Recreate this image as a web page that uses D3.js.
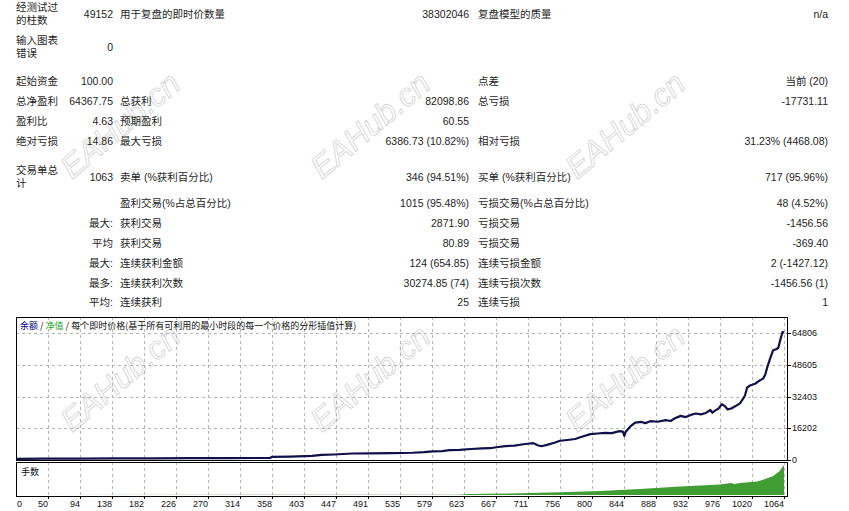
<!DOCTYPE html>
<html lang="zh">
<head>
    <meta charset="utf-8">
    <title>策略测试报告</title>
    <style type="text/css">
        body {
            margin: 0;
            background: #fff;
        }
        svg {
            display: block;
        }
        .cell {
            font-family: "Liberation Sans", "Noto Sans CJK SC", sans-serif;
            font-size: 10.5px;
            fill: #1e1e1e;
        }
        .axisText {
            font-family: "Liberation Sans", sans-serif;
            font-size: 9px;
            fill: #111;
        }
        .chartTitle {
            font-family: "Noto Sans CJK SC", sans-serif;
            font-size: 9px;
            fill: #111;
        }
        /*dashed grid like the terminal draws it*/
        .grid {
            stroke: #b5b5b5;
            stroke-width: 1px;
            stroke-dasharray: 3,3;
        }
        .frame {
            fill: none;
            stroke: #000;
            stroke-width: 1px;
        }
        .watermark {
            font-family: "Liberation Sans", sans-serif;
            font-style: italic;
            font-size: 32px;
            fill: none;
            stroke: #d2d2d2;
            stroke-width: 0.8px;
        }
    </style>
</head>
<body>
<script src="https://d3js.org/d3.v7.min.js"></script>
<script>
    // report table: label, value, label, value, label, value
    let reportRows = [
        ["经测试过\n的柱数", "49152", "用于复盘的即时价数量", "38302046", "复盘模型的质量", "n/a"],
        ["输入图表\n错误", "0", "", "", "", ""],
        ["起始资金", "100.00", "", "", "点差", "当前 (20)"],
        ["总净盈利", "64367.75", "总获利", "82098.86", "总亏损", "-17731.11"],
        ["盈利比", "4.63", "预期盈利", "60.55", "", ""],
        ["绝对亏损", "14.86", "最大亏损", "6386.73 (10.82%)", "相对亏损", "31.23% (4468.08)"],
        ["交易单总\n计", "1063", "卖单 (%获利百分比)", "346 (94.51%)", "买单 (%获利百分比)", "717 (95.96%)"],
        ["", "", "盈利交易(%占总百分比)", "1015 (95.48%)", "亏损交易(%占总百分比)", "48 (4.52%)"],
        ["", "最大:", "获利交易", "2871.90", "亏损交易", "-1456.56"],
        ["", "平均", "获利交易", "80.89", "亏损交易", "-369.40"],
        ["", "最大:", "连续获利金额", "124 (654.85)", "连续亏损金额", "2 (-1427.12)"],
        ["", "最多:", "连续获利次数", "30274.85 (74)", "连续亏损次数", "-1456.56 (1)"],
        ["", "平均:", "连续获利", "25", "连续亏损", "1"]
    ];

    // balance after trade n
    let tradeIdx = [0, 40, 90, 140, 190, 240, 290, 340, 352, 354, 380, 410, 423, 440, 466, 490, 520, 549,
        565, 577, 590, 600, 614, 630, 645, 656, 665, 677, 690, 700, 711, 716, 722, 727, 735, 745, 753, 763,
        774, 782, 795, 805, 815, 825, 835, 840, 842, 844, 850, 857, 866, 871, 878, 888, 899, 906, 912, 920,
        927, 934, 941, 948, 955, 961, 964, 968, 972, 977, 981, 985, 990, 996, 1002, 1006, 1009, 1012, 1016,
        1023, 1030, 1034, 1037, 1040, 1044, 1048, 1052, 1055, 1058, 1061, 1063];
    let balance = [100, 160, 230, 290, 340, 400, 460, 520, 560, 1100, 1250, 1600, 2100, 2300, 2800, 2900, 3000, 3200,
        3500, 3850, 4000, 4500, 4700, 5100, 5400, 5500, 6000, 6600, 6800, 7400, 7900, 8100, 7000, 6500, 7200, 8300, 9300, 9700,
        10200, 11200, 12700, 13000, 13300, 13200, 14200, 14000, 11800, 13900, 16500, 18600, 18900, 18300, 19300, 19000, 19800, 19400, 20800, 22000,
        21400, 22500, 23200, 22800, 23500, 25000, 23600, 24800, 25600, 28000, 27000, 25300, 25800, 27000, 28400, 30500, 32400, 36500, 37500,
        38400, 40200, 41000, 43000, 47000, 51500, 55500, 56000, 56600, 61000, 64806, 64468];

    // lot size per trade
    let lotIdx = [0, 393, 614, 624, 698, 753, 808, 864, 919, 947, 974, 990, 994, 1002, 1026, 1037, 1048, 1057, 1063];
    let lots = [0.01, 0.02, 0.03, 0.1, 0.17, 0.27, 0.4, 0.6, 0.85, 0.95, 1.05, 1.2, 1.1, 1.2, 1.35, 1.6, 1.9, 2.4, 3.0];

    let xTickLabels = ["0", "50", "94", "138", "182", "226", "270", "314", "358", "403", "447", "491", "535",
        "579", "623", "667", "711", "756", "800", "844", "888", "932", "976", "1020", "1064"];
    let yTickValues = [0, 16202, 32403, 48605, 64806];

    let width = 849,
        height = 511;

    let plot = {left: 16, right: 787, top: 317, bottom: 460},
        volPanel = {top: 462, bottom: 496};

    let svg = d3.select("body").append("svg")
        .attr("width", width)
        .attr("height", height);

    svg.append("rect")
        .attr("width", width)
        .attr("height", height)
        .attr("fill", "#fff");

    // watermarks sit behind everything
    let marks = svg.append("g");
    [125, 378].forEach(function(cy) {
        [120, 370, 625].forEach(function(cx) {
            marks.append("text")
                .attr("class", "watermark")
                .attr("text-anchor", "middle")
                .attr("dy", "0.35em")
                .attr("transform", "translate(" + cx + "," + cy + ") rotate(-40)")
                .text("EAHub.cn");
        });
    });

    // ---- report table ----
    let rowCenter = [14, 47, 81, 101, 121, 141, 177, 203, 223, 243, 263, 283, 302];
    let cols = [
        {x: 16, anchor: "start"},
        {x: 113, anchor: "end"},
        {x: 120, anchor: "start"},
        {x: 469, anchor: "end"},
        {x: 478, anchor: "start"},
        {x: 828, anchor: "end"}
    ];

    let table = svg.append("g");
    reportRows.forEach(function(row, i) {
        row.forEach(function(cell, j) {
            if (!cell) return;
            let lines = cell.split("\n");
            let t = table.append("text")
                .attr("class", "cell")
                .attr("text-anchor", cols[j].anchor);
            lines.forEach(function(line, k) {
                let offset = (k - (lines.length - 1) / 2) * 13;
                t.append("tspan")
                    .attr("x", cols[j].x)
                    .attr("y", rowCenter[i] + offset)
                    .attr("dy", "0.35em")
                    .text(line);
            });
        });
    });

    // ---- scales ----
    let x = d3.scaleLinear()
        .domain([0, 1063])
        .range([plot.left, 784]);

    let xTick = d3.scalePoint()
        .domain(xTickLabels)
        .range([plot.left, 784]);

    let y = d3.scaleLinear()
        .domain([0, 64806])
        .range([plot.bottom, 333]);

    let yVol = d3.scaleLinear()
        .domain([0, 3.2])
        .range([volPanel.bottom - 1, volPanel.top + 1]);

    let crisp = function(v) { return Math.round(v) + 0.5; };

    // ---- grid ----
    let grid = svg.append("g");
    xTickLabels.slice(1).forEach(function(label) {
        let gx = crisp(xTick(label));
        grid.append("line").attr("class", "grid")
            .attr("x1", gx).attr("x2", gx)
            .attr("y1", plot.top).attr("y2", plot.bottom);
        grid.append("line").attr("class", "grid")
            .attr("x1", gx).attr("x2", gx)
            .attr("y1", volPanel.top).attr("y2", volPanel.bottom);
    });
    yTickValues.slice(1).forEach(function(v) {
        let gy = crisp(y(v));
        grid.append("line").attr("class", "grid")
            .attr("x1", plot.left).attr("x2", plot.right)
            .attr("y1", gy).attr("y2", gy);
    });

    // ---- lots area ----
    let lotData = lotIdx.map(function(d, i) { return {i: d, v: lots[i]}; });
    svg.append("path")
        .datum(lotData)
        .attr("fill", "#3f9d33")
        .attr("d", d3.area()
            .x(function(d) { return x(d.i); })
            .y0(yVol(0))
            .y1(function(d) { return yVol(d.v); }));

    // ---- balance line ----
    let balData = tradeIdx.map(function(d, i) { return {i: d, v: balance[i]}; });
    svg.append("path")
        .datum(balData)
        .attr("fill", "none")
        .attr("stroke", "#10104a")
        .attr("stroke-width", 2.2)
        .attr("stroke-linejoin", "round")
        .attr("d", d3.line()
            .x(function(d) { return x(d.i); })
            .y(function(d) { return y(d.v) - 1; }));

    // ---- frames ----
    svg.append("rect").attr("class", "frame")
        .attr("x", plot.left + 0.5).attr("y", plot.top + 0.5)
        .attr("width", plot.right - plot.left).attr("height", plot.bottom - plot.top);
    svg.append("rect").attr("class", "frame")
        .attr("x", plot.left + 0.5).attr("y", volPanel.top + 0.5)
        .attr("width", plot.right - plot.left).attr("height", volPanel.bottom - volPanel.top);

    // ---- right axis ----
    let yAxis = svg.append("g");
    yTickValues.forEach(function(v) {
        let gy = crisp(y(v));
        yAxis.append("line")
            .attr("x1", plot.right + 0.5).attr("x2", plot.right + 4)
            .attr("y1", gy).attr("y2", gy)
            .attr("stroke", "#000");
        yAxis.append("text")
            .attr("class", "axisText")
            .attr("x", plot.right + 5)
            .attr("y", y(v))
            .attr("dy", "0.35em")
            .text(v);
    });

    // ---- bottom axis ----
    let xAxis = svg.append("g");
    xTickLabels.forEach(function(label, i) {
        let gx = xTick(label);
        if (i > 0) {
            xAxis.append("line")
                .attr("x1", crisp(gx)).attr("x2", crisp(gx))
                .attr("y1", volPanel.bottom).attr("y2", volPanel.bottom + 3)
                .attr("stroke", "#000");
        }
        xAxis.append("text")
            .attr("class", "axisText")
            .attr("x", i === 0 ? gx + 1 : gx)
            .attr("y", 507)
            .attr("text-anchor", i === 0 ? "start" : "end")
            .text(label);
    });

    // ---- panel captions ----
    let title = svg.append("text")
        .attr("class", "chartTitle")
        .attr("x", 20)
        .attr("y", 329);
    title.append("tspan").attr("fill", "#000080").text("余额");
    title.append("tspan").text(" / ");
    title.append("tspan").attr("fill", "#1fa51f").text("净值");
    title.append("tspan").text(" / 每个即时价格(基于所有可利用的最小时段的每一个价格的分形插值计算)");

    svg.append("text")
        .attr("class", "chartTitle")
        .attr("x", 21)
        .attr("y", 471.5)
        .attr("dy", "0.35em")
        .text("手数");
</script>
</body>
</html>
